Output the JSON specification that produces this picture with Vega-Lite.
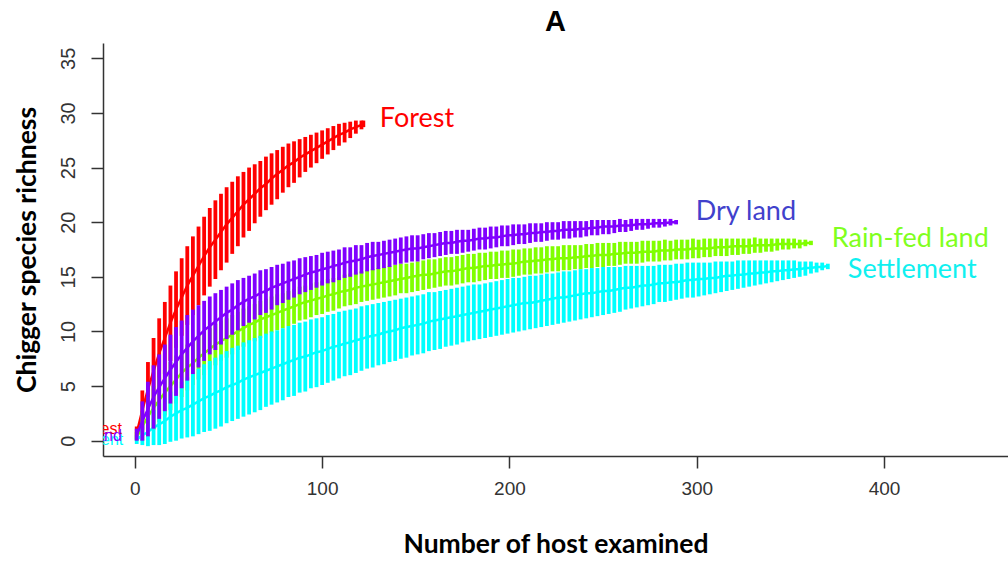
{
"$schema":"https://vega.github.io/schema/vega-lite/v6.json",
"width":905,"height":413,"autosize":"none",
"padding":{"left":103,"top":43,"right":0,"bottom":110},
"background":"white",
"config":{"view":{"stroke":null},"font":"Liberation Sans"},
"title":{"text":"A","font":"Liberation Sans","fontSize":29,"fontWeight":"bold","color":"#000","anchor":"middle","offset":6},
"datasets":{
"forest":[
{"n":1,"m":0.7,"lo":0.1,"hi":1.3},{"n":4,"m":2.8,"lo":1.0,"hi":4.6},{"n":7,"m":4.7,"lo":2.2,"hi":7.2},{"n":10,"m":6.4,"lo":3.4,"hi":9.4},{"n":13,"m":8.0,"lo":4.9,"hi":11.2},{"n":16,"m":9.4,"lo":6.1,"hi":12.7},{"n":19,"m":10.8,"lo":7.3,"hi":14.2},{"n":22,"m":12.0,"lo":8.5,"hi":15.5},{"n":25,"m":13.1,"lo":9.6,"hi":16.7},{"n":28,"m":14.2,"lo":10.6,"hi":17.8},{"n":31,"m":15.1,"lo":11.5,"hi":18.7},{"n":34,"m":16.0,"lo":12.4,"hi":19.6},{"n":37,"m":16.9,"lo":13.3,"hi":20.5},{"n":40,"m":17.7,"lo":14.1,"hi":21.3},{"n":43,"m":18.4,"lo":14.8,"hi":22.0},{"n":46,"m":19.1,"lo":15.6,"hi":22.6},{"n":49,"m":19.8,"lo":16.3,"hi":23.2},{"n":52,"m":20.4,"lo":17.1,"hi":23.7},{"n":55,"m":21.0,"lo":17.8,"hi":24.2},{"n":58,"m":21.6,"lo":18.6,"hi":24.6},{"n":61,"m":22.1,"lo":19.2,"hi":25.0},{"n":64,"m":22.6,"lo":19.9,"hi":25.3},{"n":67,"m":23.1,"lo":20.5,"hi":25.6},{"n":70,"m":23.5,"lo":21.1,"hi":26.0},{"n":73,"m":24.0,"lo":21.6,"hi":26.3},{"n":76,"m":24.4,"lo":22.1,"hi":26.6},{"n":79,"m":24.8,"lo":22.7,"hi":26.9},{"n":82,"m":25.2,"lo":23.2,"hi":27.2},{"n":85,"m":25.5,"lo":23.6,"hi":27.4},{"n":88,"m":25.9,"lo":24.1,"hi":27.6},{"n":91,"m":26.2,"lo":24.6,"hi":27.8},{"n":94,"m":26.5,"lo":25.0,"hi":28.0},{"n":97,"m":26.8,"lo":25.4,"hi":28.2},{"n":100,"m":27.1,"lo":25.8,"hi":28.4},{"n":103,"m":27.4,"lo":26.2,"hi":28.6},{"n":106,"m":27.7,"lo":26.6,"hi":28.8},{"n":109,"m":28.0,"lo":27.0,"hi":29.0},{"n":112,"m":28.2,"lo":27.3,"hi":29.1},{"n":115,"m":28.5,"lo":27.7,"hi":29.2},{"n":118,"m":28.7,"lo":28.1,"hi":29.3},{"n":121,"m":28.9,"lo":28.5,"hi":29.3},{"n":122,"m":29.0,"lo":28.7,"hi":29.3}
],
"rainfed":[
{"n":1,"m":0.3,"lo":0.0,"hi":0.8},{"n":4,"m":1.3,"lo":0.0,"hi":2.6},{"n":7,"m":2.2,"lo":0.4,"hi":4.0},{"n":10,"m":3.0,"lo":1.0,"hi":5.0},{"n":13,"m":3.7,"lo":1.7,"hi":5.8},{"n":16,"m":4.4,"lo":2.3,"hi":6.5},{"n":19,"m":5.0,"lo":2.8,"hi":7.2},{"n":22,"m":5.6,"lo":3.4,"hi":7.8},{"n":25,"m":6.2,"lo":4.0,"hi":8.3},{"n":28,"m":6.7,"lo":4.6,"hi":8.8},{"n":31,"m":7.1,"lo":5.1,"hi":9.2},{"n":34,"m":7.6,"lo":5.6,"hi":9.6},{"n":37,"m":8.0,"lo":6.0,"hi":10.0},{"n":40,"m":8.4,"lo":6.5,"hi":10.3},{"n":43,"m":8.8,"lo":6.9,"hi":10.7},{"n":46,"m":9.1,"lo":7.3,"hi":11.0},{"n":49,"m":9.4,"lo":7.6,"hi":11.2},{"n":52,"m":9.7,"lo":7.9,"hi":11.5},{"n":55,"m":10.0,"lo":8.3,"hi":11.8},{"n":58,"m":10.3,"lo":8.6,"hi":12.1},{"n":61,"m":10.6,"lo":8.9,"hi":12.3},{"n":64,"m":10.8,"lo":9.1,"hi":12.5},{"n":67,"m":11.1,"lo":9.4,"hi":12.8},{"n":70,"m":11.3,"lo":9.7,"hi":13.0},{"n":73,"m":11.5,"lo":9.9,"hi":13.2},{"n":76,"m":11.7,"lo":10.1,"hi":13.4},{"n":79,"m":11.9,"lo":10.3,"hi":13.5},{"n":82,"m":12.1,"lo":10.5,"hi":13.7},{"n":85,"m":12.3,"lo":10.7,"hi":13.9},{"n":88,"m":12.5,"lo":11.0,"hi":14.1},{"n":91,"m":12.7,"lo":11.1,"hi":14.2},{"n":94,"m":12.8,"lo":11.3,"hi":14.4},{"n":97,"m":13.0,"lo":11.5,"hi":14.5},{"n":100,"m":13.1,"lo":11.6,"hi":14.6},{"n":103,"m":13.3,"lo":11.8,"hi":14.8},{"n":106,"m":13.4,"lo":11.9,"hi":14.9},{"n":109,"m":13.6,"lo":12.1,"hi":15.0},{"n":112,"m":13.7,"lo":12.3,"hi":15.2},{"n":115,"m":13.8,"lo":12.4,"hi":15.3},{"n":118,"m":14.0,"lo":12.5,"hi":15.4},{"n":121,"m":14.1,"lo":12.7,"hi":15.5},{"n":124,"m":14.2,"lo":12.8,"hi":15.6},{"n":127,"m":14.3,"lo":12.9,"hi":15.7},{"n":130,"m":14.4,"lo":13.0,"hi":15.8},{"n":133,"m":14.5,"lo":13.1,"hi":15.9},{"n":136,"m":14.6,"lo":13.2,"hi":16.0},{"n":139,"m":14.7,"lo":13.3,"hi":16.1},{"n":142,"m":14.8,"lo":13.5,"hi":16.2},{"n":145,"m":14.9,"lo":13.5,"hi":16.2},{"n":148,"m":15.0,"lo":13.6,"hi":16.3},{"n":151,"m":15.1,"lo":13.7,"hi":16.4},{"n":154,"m":15.2,"lo":13.8,"hi":16.5},{"n":157,"m":15.2,"lo":13.9,"hi":16.6},{"n":160,"m":15.3,"lo":14.0,"hi":16.6},{"n":163,"m":15.4,"lo":14.1,"hi":16.7},{"n":166,"m":15.5,"lo":14.2,"hi":16.8},{"n":169,"m":15.5,"lo":14.2,"hi":16.8},{"n":172,"m":15.6,"lo":14.3,"hi":16.9},{"n":175,"m":15.7,"lo":14.4,"hi":17.0},{"n":178,"m":15.8,"lo":14.5,"hi":17.1},{"n":181,"m":15.8,"lo":14.5,"hi":17.1},{"n":184,"m":15.9,"lo":14.6,"hi":17.2},{"n":187,"m":16.0,"lo":14.7,"hi":17.2},{"n":190,"m":16.0,"lo":14.8,"hi":17.3},{"n":193,"m":16.1,"lo":14.8,"hi":17.3},{"n":196,"m":16.1,"lo":14.9,"hi":17.4},{"n":199,"m":16.2,"lo":14.9,"hi":17.4},{"n":202,"m":16.2,"lo":15.0,"hi":17.5},{"n":205,"m":16.3,"lo":15.1,"hi":17.5},{"n":208,"m":16.4,"lo":15.2,"hi":17.6},{"n":211,"m":16.4,"lo":15.2,"hi":17.6},{"n":214,"m":16.5,"lo":15.3,"hi":17.7},{"n":217,"m":16.5,"lo":15.3,"hi":17.7},{"n":220,"m":16.6,"lo":15.4,"hi":17.8},{"n":223,"m":16.6,"lo":15.5,"hi":17.8},{"n":226,"m":16.7,"lo":15.5,"hi":17.8},{"n":229,"m":16.7,"lo":15.6,"hi":17.9},{"n":232,"m":16.7,"lo":15.6,"hi":17.9},{"n":235,"m":16.8,"lo":15.7,"hi":17.9},{"n":238,"m":16.8,"lo":15.7,"hi":17.9},{"n":241,"m":16.9,"lo":15.8,"hi":18.0},{"n":244,"m":16.9,"lo":15.8,"hi":18.0},{"n":247,"m":17.0,"lo":15.9,"hi":18.1},{"n":250,"m":17.0,"lo":15.9,"hi":18.1},{"n":253,"m":17.0,"lo":16.0,"hi":18.1},{"n":256,"m":17.1,"lo":16.0,"hi":18.1},{"n":259,"m":17.1,"lo":16.1,"hi":18.2},{"n":262,"m":17.2,"lo":16.2,"hi":18.2},{"n":265,"m":17.2,"lo":16.2,"hi":18.2},{"n":268,"m":17.2,"lo":16.2,"hi":18.2},{"n":271,"m":17.3,"lo":16.3,"hi":18.3},{"n":274,"m":17.3,"lo":16.4,"hi":18.3},{"n":277,"m":17.3,"lo":16.4,"hi":18.3},{"n":280,"m":17.4,"lo":16.4,"hi":18.3},{"n":283,"m":17.4,"lo":16.5,"hi":18.4},{"n":286,"m":17.4,"lo":16.5,"hi":18.3},{"n":289,"m":17.5,"lo":16.6,"hi":18.4},{"n":292,"m":17.5,"lo":16.6,"hi":18.4},{"n":295,"m":17.5,"lo":16.6,"hi":18.4},{"n":298,"m":17.6,"lo":16.7,"hi":18.5},{"n":301,"m":17.6,"lo":16.7,"hi":18.4},{"n":304,"m":17.6,"lo":16.8,"hi":18.5},{"n":307,"m":17.6,"lo":16.8,"hi":18.5},{"n":310,"m":17.7,"lo":16.9,"hi":18.5},{"n":313,"m":17.7,"lo":16.9,"hi":18.5},{"n":316,"m":17.7,"lo":16.9,"hi":18.5},{"n":319,"m":17.8,"lo":17.0,"hi":18.5},{"n":322,"m":17.8,"lo":17.0,"hi":18.5},{"n":325,"m":17.8,"lo":17.1,"hi":18.5},{"n":328,"m":17.8,"lo":17.1,"hi":18.5},{"n":331,"m":17.9,"lo":17.2,"hi":18.6},{"n":334,"m":17.9,"lo":17.2,"hi":18.5},{"n":337,"m":17.9,"lo":17.3,"hi":18.5},{"n":340,"m":17.9,"lo":17.3,"hi":18.5},{"n":343,"m":18.0,"lo":17.4,"hi":18.5},{"n":346,"m":18.0,"lo":17.5,"hi":18.5},{"n":349,"m":18.0,"lo":17.5,"hi":18.5},{"n":352,"m":18.0,"lo":17.6,"hi":18.5},{"n":355,"m":18.0,"lo":17.6,"hi":18.4},{"n":358,"m":18.1,"lo":17.8,"hi":18.4},{"n":361,"m":18.1,"lo":17.9,"hi":18.3}
],
"settlement":[
{"n":1,"m":0.1,"lo":-0.3,"hi":0.5},{"n":4,"m":0.5,"lo":-0.4,"hi":1.4},{"n":7,"m":0.8,"lo":-0.5,"hi":2.1},{"n":10,"m":1.2,"lo":-0.4,"hi":2.8},{"n":13,"m":1.5,"lo":-0.4,"hi":3.4},{"n":16,"m":1.8,"lo":-0.3,"hi":3.9},{"n":19,"m":2.2,"lo":-0.1,"hi":4.5},{"n":22,"m":2.5,"lo":0.0,"hi":4.9},{"n":25,"m":2.8,"lo":0.2,"hi":5.4},{"n":28,"m":3.0,"lo":0.3,"hi":5.8},{"n":31,"m":3.3,"lo":0.4,"hi":6.2},{"n":34,"m":3.6,"lo":0.6,"hi":6.6},{"n":37,"m":3.9,"lo":0.8,"hi":7.0},{"n":40,"m":4.1,"lo":0.9,"hi":7.3},{"n":43,"m":4.4,"lo":1.1,"hi":7.6},{"n":46,"m":4.6,"lo":1.3,"hi":7.9},{"n":49,"m":4.9,"lo":1.6,"hi":8.2},{"n":52,"m":5.1,"lo":1.8,"hi":8.5},{"n":55,"m":5.3,"lo":2.0,"hi":8.7},{"n":58,"m":5.6,"lo":2.2,"hi":9.0},{"n":61,"m":5.8,"lo":2.4,"hi":9.2},{"n":64,"m":6.0,"lo":2.6,"hi":9.4},{"n":67,"m":6.2,"lo":2.8,"hi":9.6},{"n":70,"m":6.4,"lo":3.1,"hi":9.8},{"n":73,"m":6.6,"lo":3.3,"hi":10.0},{"n":76,"m":6.8,"lo":3.5,"hi":10.1},{"n":79,"m":7.0,"lo":3.7,"hi":10.3},{"n":82,"m":7.2,"lo":4.0,"hi":10.5},{"n":85,"m":7.4,"lo":4.1,"hi":10.6},{"n":88,"m":7.6,"lo":4.4,"hi":10.8},{"n":91,"m":7.7,"lo":4.5,"hi":10.9},{"n":94,"m":7.9,"lo":4.8,"hi":11.1},{"n":97,"m":8.1,"lo":4.9,"hi":11.2},{"n":100,"m":8.2,"lo":5.1,"hi":11.3},{"n":103,"m":8.4,"lo":5.3,"hi":11.5},{"n":106,"m":8.6,"lo":5.5,"hi":11.6},{"n":109,"m":8.7,"lo":5.7,"hi":11.8},{"n":112,"m":8.9,"lo":5.9,"hi":11.9},{"n":115,"m":9.0,"lo":6.0,"hi":12.0},{"n":118,"m":9.2,"lo":6.2,"hi":12.1},{"n":121,"m":9.3,"lo":6.4,"hi":12.3},{"n":124,"m":9.5,"lo":6.6,"hi":12.4},{"n":127,"m":9.6,"lo":6.7,"hi":12.5},{"n":130,"m":9.7,"lo":6.9,"hi":12.6},{"n":133,"m":9.9,"lo":7.0,"hi":12.7},{"n":136,"m":10.0,"lo":7.2,"hi":12.8},{"n":139,"m":10.1,"lo":7.3,"hi":12.9},{"n":142,"m":10.3,"lo":7.5,"hi":13.0},{"n":145,"m":10.4,"lo":7.6,"hi":13.1},{"n":148,"m":10.5,"lo":7.8,"hi":13.2},{"n":151,"m":10.6,"lo":7.9,"hi":13.3},{"n":154,"m":10.7,"lo":8.0,"hi":13.4},{"n":157,"m":10.9,"lo":8.2,"hi":13.6},{"n":160,"m":11.0,"lo":8.3,"hi":13.6},{"n":163,"m":11.1,"lo":8.4,"hi":13.7},{"n":166,"m":11.2,"lo":8.6,"hi":13.8},{"n":169,"m":11.3,"lo":8.7,"hi":13.9},{"n":172,"m":11.4,"lo":8.8,"hi":14.0},{"n":175,"m":11.5,"lo":9.0,"hi":14.1},{"n":178,"m":11.6,"lo":9.1,"hi":14.2},{"n":181,"m":11.7,"lo":9.2,"hi":14.3},{"n":184,"m":11.8,"lo":9.3,"hi":14.3},{"n":187,"m":11.9,"lo":9.4,"hi":14.4},{"n":190,"m":12.0,"lo":9.5,"hi":14.5},{"n":193,"m":12.1,"lo":9.6,"hi":14.6},{"n":196,"m":12.2,"lo":9.7,"hi":14.7},{"n":199,"m":12.3,"lo":9.8,"hi":14.8},{"n":202,"m":12.4,"lo":9.9,"hi":14.9},{"n":205,"m":12.5,"lo":10.0,"hi":14.9},{"n":208,"m":12.6,"lo":10.1,"hi":15.0},{"n":211,"m":12.6,"lo":10.2,"hi":15.1},{"n":214,"m":12.7,"lo":10.3,"hi":15.1},{"n":217,"m":12.8,"lo":10.4,"hi":15.2},{"n":220,"m":12.9,"lo":10.5,"hi":15.3},{"n":223,"m":13.0,"lo":10.6,"hi":15.3},{"n":226,"m":13.1,"lo":10.7,"hi":15.4},{"n":229,"m":13.1,"lo":10.8,"hi":15.5},{"n":232,"m":13.2,"lo":10.9,"hi":15.5},{"n":235,"m":13.3,"lo":11.0,"hi":15.6},{"n":238,"m":13.4,"lo":11.1,"hi":15.7},{"n":241,"m":13.5,"lo":11.2,"hi":15.7},{"n":244,"m":13.5,"lo":11.3,"hi":15.8},{"n":247,"m":13.6,"lo":11.4,"hi":15.8},{"n":250,"m":13.7,"lo":11.5,"hi":15.9},{"n":253,"m":13.7,"lo":11.6,"hi":15.9},{"n":256,"m":13.8,"lo":11.7,"hi":15.9},{"n":259,"m":13.9,"lo":11.8,"hi":15.9},{"n":262,"m":14.0,"lo":12.0,"hi":16.0},{"n":265,"m":14.0,"lo":12.1,"hi":16.0},{"n":268,"m":14.1,"lo":12.2,"hi":16.0},{"n":271,"m":14.2,"lo":12.3,"hi":16.0},{"n":274,"m":14.2,"lo":12.4,"hi":16.0},{"n":277,"m":14.3,"lo":12.5,"hi":16.0},{"n":280,"m":14.4,"lo":12.7,"hi":16.1},{"n":283,"m":14.4,"lo":12.7,"hi":16.1},{"n":286,"m":14.5,"lo":12.8,"hi":16.1},{"n":289,"m":14.5,"lo":12.9,"hi":16.2},{"n":292,"m":14.6,"lo":13.0,"hi":16.2},{"n":295,"m":14.7,"lo":13.1,"hi":16.3},{"n":298,"m":14.7,"lo":13.1,"hi":16.3},{"n":301,"m":14.8,"lo":13.2,"hi":16.3},{"n":304,"m":14.8,"lo":13.3,"hi":16.3},{"n":307,"m":14.9,"lo":13.4,"hi":16.3},{"n":310,"m":14.9,"lo":13.5,"hi":16.4},{"n":313,"m":15.0,"lo":13.6,"hi":16.4},{"n":316,"m":15.1,"lo":13.7,"hi":16.4},{"n":319,"m":15.1,"lo":13.8,"hi":16.4},{"n":322,"m":15.2,"lo":13.9,"hi":16.5},{"n":325,"m":15.2,"lo":14.0,"hi":16.5},{"n":328,"m":15.3,"lo":14.1,"hi":16.5},{"n":331,"m":15.3,"lo":14.2,"hi":16.5},{"n":334,"m":15.4,"lo":14.3,"hi":16.5},{"n":337,"m":15.4,"lo":14.4,"hi":16.5},{"n":340,"m":15.5,"lo":14.5,"hi":16.5},{"n":343,"m":15.5,"lo":14.6,"hi":16.5},{"n":346,"m":15.6,"lo":14.7,"hi":16.5},{"n":349,"m":15.6,"lo":14.8,"hi":16.5},{"n":352,"m":15.7,"lo":14.9,"hi":16.5},{"n":355,"m":15.7,"lo":15.0,"hi":16.4},{"n":358,"m":15.8,"lo":15.1,"hi":16.4},{"n":361,"m":15.8,"lo":15.3,"hi":16.4},{"n":364,"m":15.9,"lo":15.4,"hi":16.3},{"n":367,"m":15.9,"lo":15.6,"hi":16.3},{"n":370,"m":16.0,"lo":15.7,"hi":16.2}
],
"dry":[
{"n":1,"m":0.5,"lo":0.0,"hi":1.1},{"n":4,"m":1.8,"lo":0.0,"hi":3.6},{"n":7,"m":2.9,"lo":0.4,"hi":5.4},{"n":10,"m":4.0,"lo":1.1,"hi":6.9},{"n":13,"m":4.9,"lo":2.0,"hi":7.9},{"n":16,"m":5.7,"lo":2.7,"hi":8.8},{"n":19,"m":6.5,"lo":3.4,"hi":9.7},{"n":22,"m":7.2,"lo":4.1,"hi":10.4},{"n":25,"m":7.9,"lo":4.8,"hi":11.0},{"n":28,"m":8.5,"lo":5.5,"hi":11.5},{"n":31,"m":9.1,"lo":6.1,"hi":12.0},{"n":34,"m":9.6,"lo":6.7,"hi":12.4},{"n":37,"m":10.1,"lo":7.3,"hi":12.8},{"n":40,"m":10.5,"lo":7.9,"hi":13.2},{"n":43,"m":10.9,"lo":8.3,"hi":13.5},{"n":46,"m":11.3,"lo":8.8,"hi":13.8},{"n":49,"m":11.7,"lo":9.3,"hi":14.1},{"n":52,"m":12.0,"lo":9.7,"hi":14.4},{"n":55,"m":12.4,"lo":10.1,"hi":14.7},{"n":58,"m":12.7,"lo":10.5,"hi":14.9},{"n":61,"m":13.0,"lo":10.8,"hi":15.1},{"n":64,"m":13.2,"lo":11.1,"hi":15.3},{"n":67,"m":13.5,"lo":11.5,"hi":15.6},{"n":70,"m":13.7,"lo":11.7,"hi":15.7},{"n":73,"m":14.0,"lo":12.0,"hi":15.9},{"n":76,"m":14.2,"lo":12.4,"hi":16.1},{"n":79,"m":14.4,"lo":12.6,"hi":16.2},{"n":82,"m":14.6,"lo":12.9,"hi":16.4},{"n":85,"m":14.8,"lo":13.1,"hi":16.5},{"n":88,"m":15.0,"lo":13.4,"hi":16.7},{"n":91,"m":15.2,"lo":13.6,"hi":16.8},{"n":94,"m":15.4,"lo":13.8,"hi":16.9},{"n":97,"m":15.5,"lo":14.0,"hi":17.0},{"n":100,"m":15.7,"lo":14.2,"hi":17.2},{"n":103,"m":15.8,"lo":14.4,"hi":17.3},{"n":106,"m":16.0,"lo":14.5,"hi":17.4},{"n":109,"m":16.1,"lo":14.7,"hi":17.5},{"n":112,"m":16.3,"lo":14.9,"hi":17.7},{"n":115,"m":16.4,"lo":15.0,"hi":17.7},{"n":118,"m":16.5,"lo":15.2,"hi":17.9},{"n":121,"m":16.6,"lo":15.3,"hi":17.9},{"n":124,"m":16.8,"lo":15.5,"hi":18.1},{"n":127,"m":16.9,"lo":15.6,"hi":18.2},{"n":130,"m":17.0,"lo":15.7,"hi":18.2},{"n":133,"m":17.1,"lo":15.8,"hi":18.3},{"n":136,"m":17.2,"lo":15.9,"hi":18.4},{"n":139,"m":17.3,"lo":16.1,"hi":18.5},{"n":142,"m":17.4,"lo":16.2,"hi":18.6},{"n":145,"m":17.5,"lo":16.3,"hi":18.7},{"n":148,"m":17.6,"lo":16.4,"hi":18.8},{"n":151,"m":17.6,"lo":16.4,"hi":18.8},{"n":154,"m":17.7,"lo":16.6,"hi":18.9},{"n":157,"m":17.8,"lo":16.7,"hi":19.0},{"n":160,"m":17.9,"lo":16.8,"hi":19.0},{"n":163,"m":18.0,"lo":16.9,"hi":19.1},{"n":166,"m":18.1,"lo":17.0,"hi":19.2},{"n":169,"m":18.1,"lo":17.1,"hi":19.2},{"n":172,"m":18.2,"lo":17.1,"hi":19.3},{"n":175,"m":18.3,"lo":17.2,"hi":19.3},{"n":178,"m":18.3,"lo":17.3,"hi":19.3},{"n":181,"m":18.4,"lo":17.4,"hi":19.4},{"n":184,"m":18.5,"lo":17.5,"hi":19.5},{"n":187,"m":18.5,"lo":17.5,"hi":19.5},{"n":190,"m":18.6,"lo":17.6,"hi":19.6},{"n":193,"m":18.6,"lo":17.7,"hi":19.6},{"n":196,"m":18.7,"lo":17.8,"hi":19.7},{"n":199,"m":18.8,"lo":17.8,"hi":19.7},{"n":202,"m":18.8,"lo":17.9,"hi":19.8},{"n":205,"m":18.9,"lo":18.0,"hi":19.8},{"n":208,"m":18.9,"lo":18.0,"hi":19.8},{"n":211,"m":19.0,"lo":18.1,"hi":19.9},{"n":214,"m":19.0,"lo":18.2,"hi":19.9},{"n":217,"m":19.1,"lo":18.2,"hi":19.9},{"n":220,"m":19.1,"lo":18.3,"hi":20.0},{"n":223,"m":19.2,"lo":18.4,"hi":20.0},{"n":226,"m":19.2,"lo":18.4,"hi":20.0},{"n":229,"m":19.3,"lo":18.5,"hi":20.1},{"n":232,"m":19.3,"lo":18.5,"hi":20.1},{"n":235,"m":19.3,"lo":18.6,"hi":20.1},{"n":238,"m":19.4,"lo":18.6,"hi":20.1},{"n":241,"m":19.4,"lo":18.7,"hi":20.1},{"n":244,"m":19.5,"lo":18.8,"hi":20.2},{"n":247,"m":19.5,"lo":18.8,"hi":20.2},{"n":250,"m":19.6,"lo":18.9,"hi":20.2},{"n":253,"m":19.6,"lo":18.9,"hi":20.2},{"n":256,"m":19.6,"lo":19.0,"hi":20.2},{"n":259,"m":19.7,"lo":19.1,"hi":20.3},{"n":262,"m":19.7,"lo":19.1,"hi":20.2},{"n":265,"m":19.7,"lo":19.2,"hi":20.3},{"n":268,"m":19.8,"lo":19.3,"hi":20.3},{"n":271,"m":19.8,"lo":19.3,"hi":20.3},{"n":274,"m":19.8,"lo":19.4,"hi":20.3},{"n":277,"m":19.9,"lo":19.5,"hi":20.3},{"n":280,"m":19.9,"lo":19.5,"hi":20.3},{"n":283,"m":19.9,"lo":19.6,"hi":20.3},{"n":286,"m":20.0,"lo":19.7,"hi":20.3},{"n":289,"m":20.0,"lo":19.8,"hi":20.2}
],
"endlabels":[
{"label":"Forest","x":130.8,"y":29.4},
{"label":"Dry land","x":299.5,"y":20.9},
{"label":"Rain-fed land","x":372.1,"y":18.5},
{"label":"Settlement","x":380.7,"y":15.6}
],
"startlabels":[
{"label":"Forest","x":-6.9,"y":1.1},
{"label":"Settlement","x":-6.2,"y":0.1},
{"label":"Dry land","x":-6.9,"y":0.45}
]
},
"layer":[
{"data":{"name":"forest"},
 "encoding":{"x":{"field":"n","type":"quantitative","scale":{"domain":[-17,466.2],"nice":false,"zero":false},
   "axis":{"title":"Number of host examined","values":[0,100,200,300,400],"grid":false,"domainColor":"#333333","domainWidth":1.5,"tickColor":"#333333","tickWidth":1.5,"tickSize":12,"labelFont":"Liberation Sans","labelFontSize":19,"labelColor":"#333333","labelPadding":11,"titleFont":"Lato","titleFontWeight":"bold","titleFontSize":26.5,"titleColor":"#000000","titlePadding":33}}},
 "layer":[
  {"mark":{"type":"rule","color":"#FF0000","strokeWidth":3.8},
   "encoding":{"y":{"field":"lo","type":"quantitative","scale":{"domain":[-1.4,36.4],"nice":false,"zero":false},
     "axis":{"title":"Chigger species richness","values":[0,5,10,15,20,25,30,35],"grid":false,"domainColor":"#333333","domainWidth":1.5,"tickColor":"#333333","tickWidth":1.5,"tickSize":12,"labelFont":"Liberation Sans","labelFontSize":20,"labelColor":"#333333","labelAngle":-90,"labelAlign":"center","labelBaseline":"bottom","labelPadding":13,"titleFont":"Lato","titleFontWeight":"bold","titleFontSize":26.5,"titleColor":"#000000","titlePadding":17}},
   "y2":{"field":"hi"}}},
  {"mark":{"type":"line","color":"#FF0000","strokeWidth":2.5},"encoding":{"y":{"field":"m","type":"quantitative"}}}
 ]},
{"data":{"name":"rainfed"},
 "encoding":{"x":{"field":"n","type":"quantitative"}},
 "layer":[
  {"mark":{"type":"rule","color":"#80FF00","strokeWidth":3.8},"encoding":{"y":{"field":"lo","type":"quantitative"},"y2":{"field":"hi"}}},
  {"mark":{"type":"line","color":"#80FF00","strokeWidth":2.5},"encoding":{"y":{"field":"m","type":"quantitative"}}}
 ]},
{"data":{"name":"settlement"},
 "encoding":{"x":{"field":"n","type":"quantitative"}},
 "layer":[
  {"mark":{"type":"rule","color":"#00FFFF","strokeWidth":3.8},"encoding":{"y":{"field":"lo","type":"quantitative"},"y2":{"field":"hi"}}},
  {"mark":{"type":"line","color":"#00FFFF","strokeWidth":2.5},"encoding":{"y":{"field":"m","type":"quantitative"}}}
 ]},
{"data":{"name":"dry"},
 "encoding":{"x":{"field":"n","type":"quantitative"}},
 "layer":[
  {"mark":{"type":"rule","color":"#8000FF","strokeWidth":3.8},"encoding":{"y":{"field":"lo","type":"quantitative"},"y2":{"field":"hi"}}},
  {"mark":{"type":"line","color":"#8000FF","strokeWidth":2.5},"encoding":{"y":{"field":"m","type":"quantitative"}}}
 ]},
{"data":{"name":"endlabels"},
 "mark":{"type":"text","font":"Lato","fontSize":27,"align":"left","baseline":"middle"},
 "encoding":{"x":{"field":"x","type":"quantitative"},"y":{"field":"y","type":"quantitative"},"text":{"field":"label"},
  "color":{"field":"label","type":"nominal","legend":null,"scale":{"domain":["Forest","Dry land","Rain-fed land","Settlement"],"range":["#FF0000","#4141CC","#80FF20","#10F0F0"]}}}},
{"data":{"name":"startlabels"},
 "mark":{"type":"text","font":"Liberation Sans","fontSize":16,"align":"right","baseline":"middle","clip":true},
 "encoding":{"x":{"field":"x","type":"quantitative"},"y":{"field":"y","type":"quantitative"},"text":{"field":"label"},
  "color":{"field":"label","type":"nominal","legend":null,"scale":{"domain":["Forest","Settlement","Dry land"],"range":["#FF0000","#00FFFF","#8000FF"]}}}}
],
"resolve":{"scale":{"color":"independent"}}
}
